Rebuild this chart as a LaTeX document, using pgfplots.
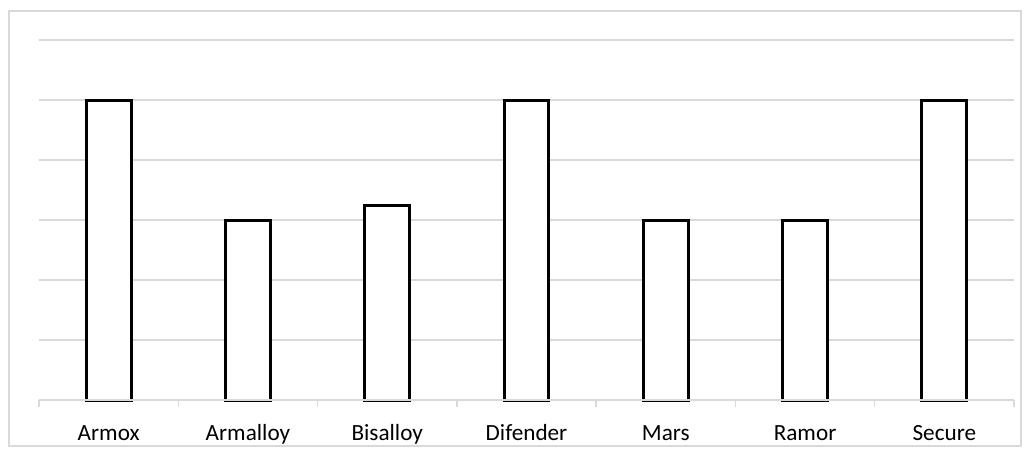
\documentclass[border=0pt]{standalone}
\usepackage{pgfplots}
\pgfplotsset{compat=1.18}
\usepackage{fontspec}
\setmainfont{Carlito}
\definecolor{gridgray}{HTML}{D9D9D9}
\begin{document}
\begin{tikzpicture}
\begin{axis}[
  name=ax,
  anchor=south west, at={(0pt,0pt)},
  scale only axis,
  width=487.5pt, height=180pt,
  xmin=-0.5, xmax=6.5, ymin=0, ymax=6,
  axis x line*=bottom, axis y line*=left,
  x axis line style={gridgray, line width=0.75pt, -},
  y axis line style={draw=none},
  ytick={1,2,3,4,5,6}, yticklabels={},
  ytick style={draw=none},
  ymajorgrids, grid style={gridgray, line width=0.75pt},
  xtick={0,1,2,3,4,5,6},
  xticklabels={Armox,Armalloy,Bisalloy,Difender,Mars,Ramor,Secure},
  major tick length=0pt,
  extra x ticks={-0.5,0.5,1.5,2.5,3.5,4.5,5.5,6.5},
  extra x tick labels={},
  extra x tick style={major tick length=3.5pt, tick align=outside, tick style={gridgray, line width=0.75pt}},
  xticklabel style={font=\fontsize{11.6}{14}\selectfont, anchor=base, yshift=-20pt},
  clip=false,
]
\addplot[ybar, bar width=0.323, fill=white, draw=black, line width=1.5pt]
  coordinates {(0,5) (1,3) (2,3.25) (3,5) (4,3) (5,3) (6,5)};
\end{axis}
\draw[gridgray, line width=0.75pt] (ax.south west) -- (ax.south east);
\begin{scope}[x=0.5pt,y=0.5pt]
\draw[gridgray, line width=0.8pt] (-30,-46) rectangle (982,389);
\end{scope}
\pgfresetboundingbox
\path[use as bounding box] (-19.5pt,-28pt) rectangle (495.5pt,200pt);
\end{tikzpicture}
\end{document}
